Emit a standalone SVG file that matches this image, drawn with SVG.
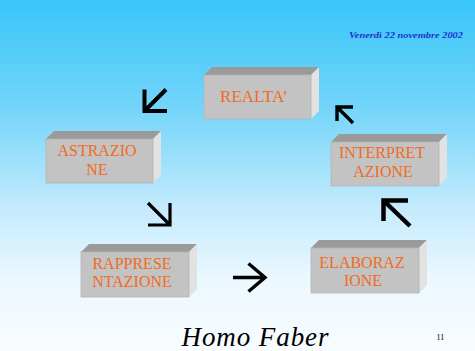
<svg xmlns="http://www.w3.org/2000/svg" width="475" height="351" viewBox="0 0 475 351">
  <defs>
    <linearGradient id="bg" x1="0" y1="0" x2="0" y2="1">
      <stop offset="0" stop-color="#38c6f8"/>
      <stop offset="0.3" stop-color="#72d4fa"/>
      <stop offset="0.6" stop-color="#c6ebfd"/>
      <stop offset="0.8" stop-color="#ecf8ff"/>
      <stop offset="1" stop-color="#f8fcff"/>
    </linearGradient>
  </defs>
  <style>
    .top { fill: #9a9a9a; }
    .front { fill: #c3c3c3; stroke: #b4b4b4; stroke-width: 0.8; }
    .side { fill: #e2e2e2; }
    .lbl { font-family: "Liberation Serif", "DejaVu Serif", serif; font-size: 16px; fill: #f26b1d; text-anchor: middle; }
    .arr { fill: none; stroke: #000; stroke-linejoin: miter; stroke-linecap: butt; }
    .date { font-family: "Liberation Serif", "DejaVu Serif", serif; font-size: 8.5px; font-style: italic; font-weight: bold; fill: #1b34d0; }
    .title { font-family: "Liberation Serif", "DejaVu Serif", serif; font-style: italic; font-size: 27px; fill: #000; }
    .num { font-family: "Liberation Serif", "DejaVu Serif", serif; font-size: 8px; fill: #000; }
  </style>
  <rect x="0" y="0" width="475" height="351" fill="url(#bg)"/>

  <g id="date">
    <text class="date" x="349" y="38" textLength="114" lengthAdjust="spacingAndGlyphs">Venerdì 22 novembre 2002</text>
  </g>

  <g id="realta">
    <polygon class="top" points="204,75 212,67 319,67 311,75"/>
    <polygon class="side" points="311,75 319,67 319,111 311,119"/>
    <rect class="front" x="204" y="75" width="107" height="44"/>
    <text class="lbl" x="254" y="102" style="font-size:17px">REALTA’</text>
  </g>

  <g id="astrazione">
    <polygon class="top" points="46,139 54,131 161,131 153,139"/>
    <polygon class="side" points="153,139 161,131 161,175 153,183"/>
    <rect class="front" x="46" y="139" width="107" height="44"/>
    <text class="lbl" x="97" y="156">ASTRAZIO</text>
    <text class="lbl" x="97" y="175">NE</text>
  </g>

  <g id="interpretazione">
    <polygon class="top" points="331,142 339,134 447,134 439,142"/>
    <polygon class="side" points="439,142 447,134 447,178 439,186"/>
    <rect class="front" x="331" y="142" width="108" height="44"/>
    <text class="lbl" x="382" y="158">INTERPRET</text>
    <text class="lbl" x="383" y="177">AZIONE</text>
  </g>

  <g id="rappresentazione">
    <polygon class="top" points="81,252 89,244 197,244 189,252"/>
    <polygon class="side" points="189,252 197,244 197,289 189,297"/>
    <rect class="front" x="81" y="252" width="108" height="45"/>
    <text class="lbl" x="132" y="269">RAPPRESE</text>
    <text class="lbl" x="132" y="287">NTAZIONE</text>
  </g>

  <g id="elaborazione">
    <polygon class="top" points="311,248 319,240 427,240 419,248"/>
    <polygon class="side" points="419,248 427,240 427,285 419,293"/>
    <rect class="front" x="311" y="248" width="108" height="45"/>
    <text class="lbl" x="362" y="268">ELABORAZ</text>
    <text class="lbl" x="363" y="286">IONE</text>
  </g>

  <g id="connectors">
    <path class="arr" stroke-width="4" d="M144.5,89.5 V111 H167 M144.5,111 L166,89.5"/>
    <path class="arr" stroke-width="3.2" d="M170,203 V225 H148 M170,225 L148,203"/>
    <path class="arr" stroke-width="3.4" d="M233,277.5 H265 M248.5,263.5 L265,277.5 L248.5,291.5"/>
    <path class="arr" stroke-width="3.4" d="M337,121 V107 H353 M337,107 L353,123"/>
    <path class="arr" stroke-width="4.5" d="M383.5,221 V200.5 H408 M383.5,200.5 L410,226"/>
  </g>

  <g id="footer">
    <text class="title" x="181.5" y="345.5" textLength="147" lengthAdjust="spacing">Homo Faber</text>
    <text class="num" x="436.5" y="340">11</text>
  </g>
</svg>
